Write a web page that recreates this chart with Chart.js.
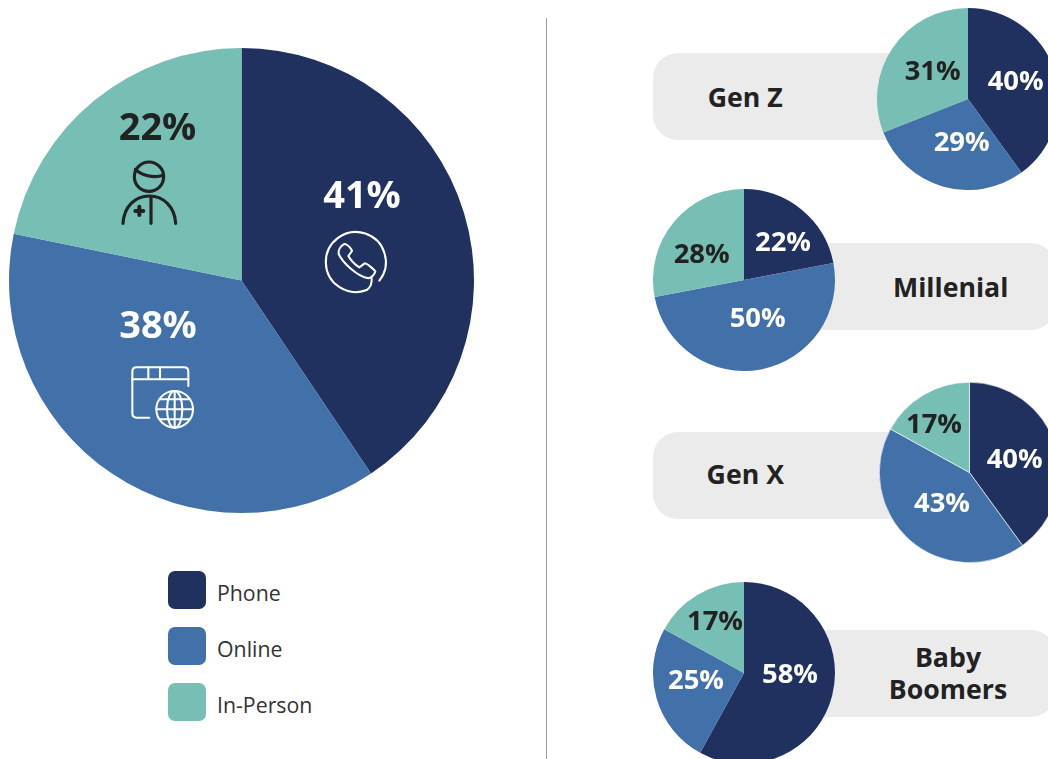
<!DOCTYPE html>
<html><head><meta charset="utf-8">
<script src="https://cdn.jsdelivr.net/npm/chart.js@4/dist/chart.umd.js"></script>
<style>
html,body{margin:0;padding:0;background:#fff;width:1048px;height:759px;overflow:hidden;font-family:"Open Sans",sans-serif;color:#222}
#stage{position:relative;width:1048px;height:759px;overflow:hidden}
.pill{position:absolute;background:#ebebeb;border-radius:25px;height:87px}
.ptext{position:absolute;font-weight:700;font-size:26.7px;line-height:31.7px;text-align:center;transform:translate(-50%,-50%);white-space:nowrap;color:#222}
canvas{position:absolute}
.sw{position:absolute;left:168px;width:38px;height:38px;border-radius:7px}
.lg{position:absolute;left:217px;font-size:21.3px;line-height:30px;color:#333;transform:translateY(-50%)}
#divider{position:absolute;left:546px;top:18px;width:1px;height:741px;background:#9a9a9a}
svg{position:absolute;left:100px;top:150px;z-index:5}
</style></head><body>
<div id="stage">
<div id="divider"></div>
<svg width="300" height="290" viewBox="0 0 900 870" fill="none" stroke-linecap="round" stroke-linejoin="round">
 <g stroke="#222" stroke-width="9.5">
  <circle cx="147" cy="80" r="44"/>
  <path d="M106,58 C125,76 160,86 190,76"/>
  <path d="M69,220 C72,170 105,138 148,138 C192,138 224,172 227,220"/>
  <path d="M153,140 L153,220"/>
  <path stroke-width="12" d="M118,170 L118,195 M106,183 L130,183"/>
 </g>
 <g stroke="#fff" stroke-width="6.2">
  <path d="M838,392 A90,90 0 1 0 800,420"/>
  <path d="M800,420 C812,412 816,400 815,385"/>
  <path d="M733,282 C722,288 714,300 716,312 C728,338 772,380 805,385 C815,383 822,375 826,365 C825,360 800,340 794,340 L778,352 C765,345 750,328 745,318 L756,303 C756,298 740,280 733,282 Z"/>
  <path d="M265,708 L265,665 Q265,652 252,652 L110,652 Q97,652 97,665 L97,790 Q97,803 110,803 L148,803"/>
  <path d="M97,688 L265,688 M145,652 L145,688 M180,652 L180,688"/>
  <circle cx="224" cy="778" r="55"/>
  <ellipse cx="224" cy="778" rx="23" ry="55"/>
  <path d="M224,723 L224,833 M169,778 L279,778 M179,748 L269,748 M179,808 L269,808"/>
 </g>
</svg>
</div>
<script>
const categories = ["Phone", "Online", "In-Person"];
const overallShare = [41, 38, 22];
const genZShare = [40, 29, 31];
const millenialShare = [22, 50, 28];
const genXShare = [40, 43, 17];
const boomerShare = [58, 25, 17];
const colors = ["#20305f", "#4270a9", "#77bfb5"];
const labelColors = ["#ffffff", "#ffffff", "#222222"];

const stage = document.getElementById("stage");

/* grey name pills */
[
 {x:653,y:53,w:300,t:["Gen Z"],cx:745.3,cy:97},
 {x:780,y:243,w:276,t:["Millenial"],cx:950.7,cy:286.5},
 {x:653,y:431.5,w:300,t:["Gen X"],cx:745.3,cy:473.8},
 {x:780,y:630,w:276,t:["Baby","Boomers"],cx:948,cy:673}
].forEach(p=>{
  const d=document.createElement("div");d.className="pill";
  d.style.cssText=`left:${p.x}px;top:${p.y}px;width:${p.w}px`;stage.appendChild(d);
  const s=document.createElement("div");s.className="ptext";
  s.style.cssText=`left:${p.cx}px;top:${p.cy}px;z-index:2`;
  s.innerHTML=p.t.join("<br>");stage.appendChild(s);
});

/* legend */
categories.forEach((c,i)=>{
  const top=570.7+56*i;
  const b=document.createElement("div");b.className="sw";
  b.style.top=top+"px";b.style.background=colors[i];stage.appendChild(b);
  const l=document.createElement("div");l.className="lg";
  l.style.top=(top+22)+"px";l.textContent=c;stage.appendChild(l);
});

/* per-slice text placement, as offsets from the pie centre */
const sliceText = {
  id:"sliceText",
  afterDatasetsDraw(chart,args,opts){
    const ctx=chart.ctx, arcs=chart.getDatasetMeta(0).data, vals=chart.data.datasets[0].data;
    ctx.save();
    ctx.font=`700 ${opts.size}px "Open Sans"`;
    ctx.textAlign="center";ctx.textBaseline="middle";
    const shift=opts.size*0.08;
    arcs.forEach((a,i)=>{
      ctx.fillStyle=labelColors[i];
      ctx.fillText(vals[i]+"%",a.x+opts.offsets[i][0],a.y+opts.offsets[i][1]+shift);
    });
    ctx.restore();
  }
};

function pie(values,cx,cy,r,size,offsets,border){
  const c=document.createElement("canvas");
  c.width=c.height=2*r; c.style.cssText=`left:${cx-r}px;top:${cy-r}px;width:${2*r}px;height:${2*r}px;z-index:1`;
  stage.appendChild(c);
  new Chart(c,{type:"pie",plugins:[sliceText],
    data:{labels:categories,datasets:[{data:values,backgroundColor:colors,borderWidth:border||0,borderColor:"#ffffff",hoverBorderWidth:0,hoverOffset:0}]},
    options:{responsive:false,animation:false,rotation:0,layout:{padding:0},events:[],
      plugins:{legend:{display:false},tooltip:{enabled:false},sliceText:{size,offsets}}}});
}
pie(overallShare,241.5,280.5,232.5,38,[[120.5,-86.5],[-83.5,43.5],[-84,-154.5]]);
pie(genZShare,968,99,91,27.4,[[47.7,-19],[-6.3,42],[-35.3,-29]]);
pie(millenialShare,744,280,91,27.4,[[39,-39],[13.7,37],[-42.3,-27]]);
pie(genXShare,969.5,472.5,90.5,27.4,[[45.2,-14.2],[-27.5,29.8],[-35.5,-49.2]],0.6);
pie(boomerShare,744,672.5,91,27.4,[[46,-0.4],[-48,6.3],[-29,-53.4]]);
</script>
</body></html>
